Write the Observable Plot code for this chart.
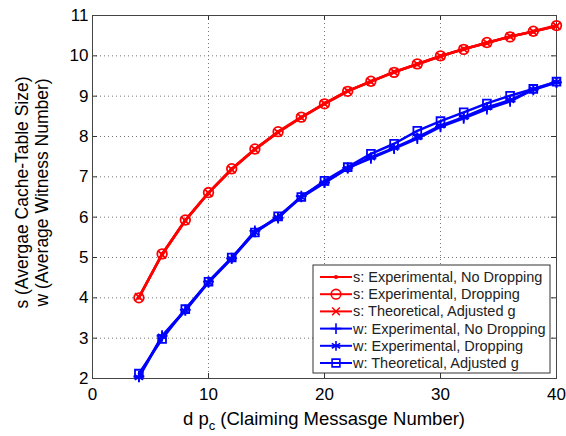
<!DOCTYPE html>
<html>
<head>
<meta charset="utf-8">
<script src="https://cdn.jsdelivr.net/npm/d3@7"></script>
<script src="https://cdn.jsdelivr.net/npm/@observablehq/plot@0.6"></script>
<style>
  html, body { margin: 0; padding: 0; background: #fff; }
  #chart { position: relative; width: 566px; height: 436px; }
</style>
</head>
<body>
<div id="chart"></div>
<script>
// ---- data ----
const xs = [4, 6, 8, 10, 12, 14, 16, 18, 20, 22, 24, 26, 28, 30, 32, 34, 36, 38, 40];
const sExpNoDrop = [4.01, 5.08, 5.92, 6.60, 7.19, 7.68, 8.11, 8.47, 8.82, 9.13, 9.36, 9.60, 9.79, 9.99, 10.17, 10.32, 10.48, 10.60, 10.74];
const sExpDrop   = [4.00, 5.09, 5.93, 6.61, 7.20, 7.69, 8.12, 8.48, 8.81, 9.12, 9.37, 9.59, 9.80, 10.00, 10.16, 10.33, 10.47, 10.61, 10.75];
const sTheo      = [4.02, 5.07, 5.91, 6.60, 7.18, 7.68, 8.10, 8.47, 8.81, 9.13, 9.36, 9.60, 9.79, 9.99, 10.17, 10.32, 10.48, 10.60, 10.74];
const wExpNoDrop = [2.05, 3.06, 3.70, 4.40, 4.98, 5.66, 5.98, 6.52, 6.86, 7.22, 7.46, 7.70, 7.95, 8.24, 8.45, 8.68, 8.87, 9.16, 9.34];
const wExpDrop   = [2.03, 3.04, 3.68, 4.38, 4.97, 5.62, 5.99, 6.49, 6.85, 7.21, 7.48, 7.72, 7.98, 8.27, 8.48, 8.72, 8.90, 9.17, 9.35];
const wTheo      = [2.12, 2.98, 3.72, 4.40, 5.00, 5.62, 6.02, 6.50, 6.90, 7.24, 7.57, 7.82, 8.14, 8.38, 8.60, 8.82, 9.01, 9.18, 9.36];
const seriesNames = [
  "s: Experimental, No Dropping",
  "s: Experimental, Dropping",
  "s: Theoretical, Adjusted g",
  "w: Experimental, No Dropping",
  "w: Experimental, Dropping",
  "w: Theoretical, Adjusted g"
];
const xTicks = [0, 10, 20, 30, 40];
const yTicks = [2, 3, 4, 5, 6, 7, 8, 9, 10, 11];
const xLabelMain = "d p";
const xLabelSub = "c";
const xLabelRest = " (Claiming Messasge Number)";
const yLabel1 = "s (Avergae Cache-Table Size)";
const yLabel2 = "w (Average Witness Number)";

// ---- styles ----
const seriesValues = [sExpNoDrop, sExpDrop, sTheo, wExpNoDrop, wExpDrop, wTheo];
const styles = [
  {color: "#ff0000", symbol: "circle", r: 1.3, fill: "#ff0000"},
  {color: "#ff0000", symbol: "circle", r: 4.8, fill: "none"},
  {color: "#ff0000", symbol: "times", r: 3.6, fill: "none"},
  {color: "#0000ff", symbol: "plus", r: 3.6, fill: "none"},
  {color: "#0000ff", symbol: "asterisk", r: 4.6, fill: "none"},
  {color: "#0000ff", symbol: "square", r: 4.4, fill: "none"}
];

const M = {left: 92, right: 10, top: 15, bottom: 58};
const W = 566, H = 436;
const frameH = H - M.top - M.bottom;
const FONT = "'Liberation Sans', Arial, sans-serif";

const marks = [
  Plot.gridX(xTicks, {stroke: "#777", strokeOpacity: 1, strokeDasharray: "1,3"}),
  Plot.gridY(yTicks, {stroke: "#777", strokeOpacity: 1, strokeDasharray: "1,3"}),
  Plot.tickX(xTicks, {x: d => d, insetTop: frameH - 5, stroke: "#333"}),
  Plot.tickX(xTicks, {x: d => d, insetBottom: frameH - 5, stroke: "#333"}),
  Plot.tickY(yTicks, {y: d => d, insetRight: W - M.left - M.right - 5, stroke: "#333"}),
  Plot.tickY(yTicks, {y: d => d, insetLeft: W - M.left - M.right - 5, stroke: "#333"}),
  Plot.axisX(xTicks, {tickSize: 0, tickPadding: 9, fontSize: 17, label: null, fill: "#000"}),
  Plot.axisY(yTicks, {tickSize: 0, tickPadding: 4, fontSize: 17, label: null, fill: "#000"}),
  Plot.frame({stroke: "#444"})
];
seriesValues.forEach((vals, i) => {
  const data = xs.map((x, j) => ({x, y: vals[j]}));
  const st = styles[i];
  marks.push(Plot.line(data, {x: "x", y: "y", stroke: st.color, strokeWidth: 2.5}));
  marks.push(Plot.dot(data, {x: "x", y: "y", symbol: () => st.symbol, r: st.r, stroke: st.color, fill: st.fill, strokeWidth: 1.8}));
});

const chart = Plot.plot({
  width: W, height: H,
  marginLeft: M.left, marginRight: M.right, marginTop: M.top, marginBottom: M.bottom,
  style: {fontFamily: FONT, fontSize: "17px", background: "#fff", color: "#000"},
  x: {domain: [0, 40]},
  y: {domain: [2, 11]},
  symbol: {type: "identity"},
  marks
});
document.getElementById("chart").appendChild(chart);

// ---- labels & legend via d3 ----
const svg = d3.select(chart);
const cx = M.left + (W - M.left - M.right) / 2;
const xl = svg.append("text").attr("x", cx).attr("y", 425).attr("text-anchor", "middle")
  .attr("font-size", 18.5).attr("fill", "#000").attr("font-family", FONT);
xl.append("tspan").text(xLabelMain);
xl.append("tspan").attr("dy", 5).attr("font-size", 13).text(xLabelSub);
xl.append("tspan").attr("dy", -5).text(xLabelRest);

const cy = M.top + frameH / 2 - 4;
[[yLabel1, 28], [yLabel2, 48]].forEach(([t, bx]) => {
  svg.append("text").attr("transform", `translate(${bx},${cy}) rotate(-90)`)
    .attr("text-anchor", "middle").attr("font-size", 17.5).attr("fill", "#000")
    .attr("font-family", FONT).text(t);
});

const lg = svg.append("g").attr("transform", "translate(313,265)");
lg.append("rect").attr("width", 237).attr("height", 108).attr("fill", "#fff").attr("stroke", "#333").attr("stroke-width", 1);
const symMap = {circle: d3.symbolCircle, times: d3.symbolTimes, plus: d3.symbolPlus, asterisk: d3.symbolAsterisk, square: d3.symbolSquare};
seriesNames.forEach((name, i) => {
  const st = styles[i];
  const y = 12 + i * 17.2;
  lg.append("line").attr("x1", 7).attr("x2", 39).attr("y1", y).attr("y2", y).attr("stroke", st.color).attr("stroke-width", 2);
  lg.append("path").attr("transform", `translate(23,${y})`)
    .attr("d", d3.symbol(symMap[st.symbol], Math.PI * st.r * st.r)())
    .attr("fill", st.fill).attr("stroke", st.color).attr("stroke-width", 1.6);
  lg.append("text").attr("x", 40).attr("y", y).attr("dy", "0.35em").attr("font-size", 14.5)
    .attr("text-anchor", "start")
    .attr("fill", "#222").attr("font-family", FONT).text(name);
});
</script>
</body>
</html>
